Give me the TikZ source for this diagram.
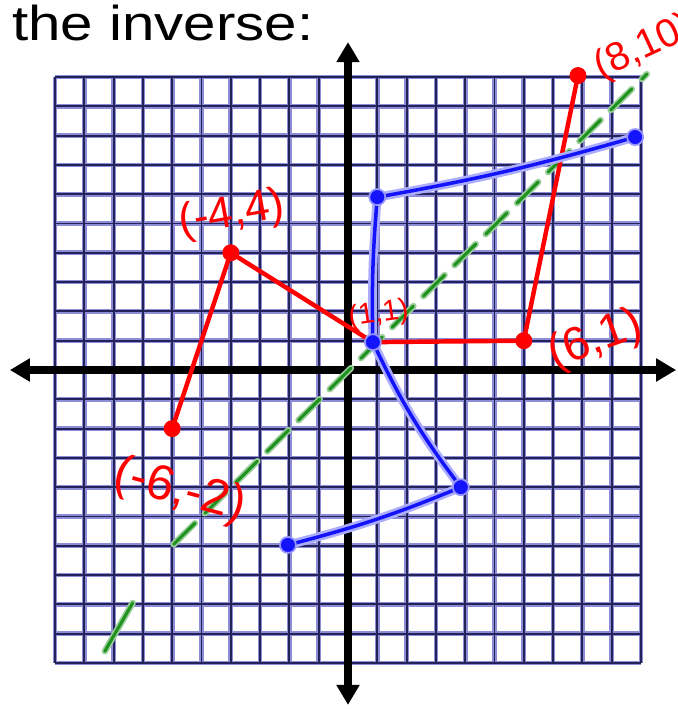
\documentclass[tikz,border=0pt]{standalone}
\usepackage{fontspec}
\setmainfont{Liberation Sans}
\usepackage{xcolor}
\usepackage{tikz}
\usetikzlibrary{arrows.meta,positioning}

\definecolor{gridlight}{RGB}{140,140,215}
\definecolor{griddark}{RGB}{35,35,90}
\definecolor{penred}{RGB}{255,0,0}
\definecolor{penblue}{RGB}{20,20,250}
\definecolor{pengreen}{RGB}{30,145,30}

\tikzset{
  reddot/.style={circle, fill=penred, inner sep=0pt, minimum size=0.5cm},
  bluedot/.style={circle, fill=penblue, draw=penblue!45, line width=1.5pt, inner sep=0pt, minimum size=0.48cm},
  redlabel/.style={text=penred, font=\fontsize{38}{40}\selectfont},
}

\begin{document}
\begin{tikzpicture}[x=0.879cm, y=0.879cm,
    gridhalo/.style={line width=4pt, color=gridlight},
    gridline/.style={line width=1.6pt, color=griddark},
    axis/.style={line width=6pt, {Triangle[length=0.6cm,width=0.66cm]}-{Triangle[length=0.6cm,width=0.66cm]}},
    redpen/.style={line width=3.8pt, color=penred, line join=round},
    bluehalo/.style={line width=7.5pt, color=penblue!35, line cap=round, line join=round},
    bluepen/.style={line width=3pt, color=penblue, line cap=round, line join=round},
    greenhalo/.style={line width=5.5pt, color=pengreen!45, line cap=round, dash pattern=on 0.9cm off 0.42cm},
    greenpen/.style={line width=2.6pt, color=pengreen, line cap=round, dash pattern=on 0.9cm off 0.42cm}]
    \useasboundingbox (-11.877,-11.57) rectangle (11.229,12.628);

    % title
    \node[anchor=base west, font=\fontsize{41.8}{44}\selectfont, xscale=1.19, inner sep=0pt] (title) at (-11.47,11.26) {the inverse:};

    % graph paper
    \foreach \i in {-10,...,10} {
        \draw[gridhalo] (\i,-10) -- (\i,10);
        \draw[gridhalo] (-10,\i) -- (10,\i);
    }
    \foreach \i in {-10,...,10} {
        \draw[gridline] (\i,-10) -- (\i,10);
        \draw[gridline] (-10,\i) -- (10,\i);
    }

    % axes
    \coordinate (xl) at (-11.54,0);
    \coordinate (xr) at (11.2,0);
    \coordinate (yb) at (0,-11.43);
    \coordinate (yt) at (0,11.19);
    \draw[axis] (xl) -- (xr);
    \draw[axis] (yb) -- (yt);

    % line y = x
    \coordinate (g1) at (-5.95,-5.95);
    \coordinate (g2) at (10.2,10.1);
    \coordinate (s1) at (-8.3,-9.6);
    \coordinate (s2) at (-7.35,-7.95);
    \draw[greenhalo] (g1) -- (g2);
    \draw[greenpen] (g1) -- (g2);
    \draw[greenhalo, solid] (s1) -- (s2);
    \draw[greenpen, solid] (s1) -- (s2);

    % original function
    \node[reddot] (r1) at (-6,-2) {};
    \node[reddot] (r2) at (-4,4) {};
    \node[reddot] (r3) at (0.85,0.95) {};
    \node[reddot] (r4) at (6,1) {};
    \node[reddot] (r5) at (7.85,10.05) {};
    \draw[redpen] (r1.center) -- (r2.center) -- (r3.center) -- (r4.center) -- (r5.center);
    \node[reddot] at (r1) {};
    \node[reddot] at (r2) {};
    \node[reddot] at (r4) {};
    \node[reddot] at (r5) {};

    % inverse
    \coordinate (b1) at (9.8,7.95);
    \coordinate (b2) at (1,5.9);
    \coordinate (b3) at (0.85,0.95);
    \coordinate (b4) at (3.85,-4);
    \coordinate (b5) at (-2.05,-5.97);
    \draw[bluehalo] (b1) to[bend left=3] (b2) to[bend right=3] (b3) to[bend right=6] (b4) to[bend left=4] (b5);
    \draw[bluepen] (b1) to[bend left=3] (b2) to[bend right=3] (b3) to[bend right=6] (b4) to[bend left=4] (b5);
    \foreach \p in {b1,b2,b3,b4,b5} { \node[bluedot] at (\p) {}; }

    % labels
    \node[redlabel, rotate=25, font=\fontsize{34}{36}\selectfont] (l5) at (10.1,11.0) {(8,10)};
    \node[redlabel, rotate=10] (l2) at (-3.96,5.3) {(-4,4)};
    \node[redlabel, rotate=8, font=\fontsize{25}{26}\selectfont] (l3) at (1.05,1.9) {(1,1)};
    \node[redlabel, rotate=20, font=\fontsize{40}{42}\selectfont] (l4) at (8.45,1.0) {(6,1)};
    \node[redlabel, rotate=-15, font=\fontsize{42}{44}\selectfont] (l1) at (-5.75,-4.15) {(-6,-2)};
\end{tikzpicture}
\end{document}
